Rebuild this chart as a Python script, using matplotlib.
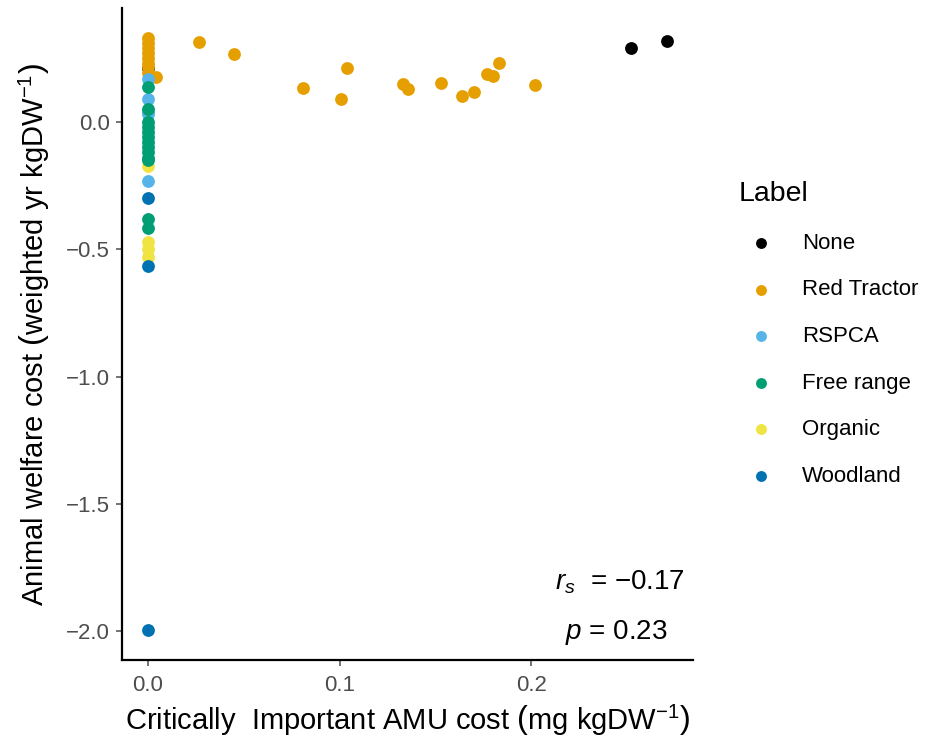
import matplotlib
matplotlib.use('Agg')
import matplotlib.pyplot as plt
import numpy as np

plt.rcParams['font.family'] = ['Liberation Sans', 'DejaVu Sans']
plt.rcParams['mathtext.fontset'] = 'custom'
plt.rcParams['mathtext.rm'] = 'Liberation Sans'
plt.rcParams['mathtext.it'] = 'Liberation Sans:italic'
plt.rcParams['mathtext.bf'] = 'Liberation Sans:bold'

# Data, by label
none_x = [0.0, 0.252, 0.271]
none_y = [0.21, 0.289, 0.316]

rt_x = [0.0, 0.0, 0.0, 0.0, 0.0, 0.0, 0.0, 0.0, 0.004, 0.0265, 0.045, 0.081, 0.101,
        0.104, 0.133, 0.136, 0.153, 0.164, 0.170, 0.177, 0.180, 0.183, 0.202]
rt_y = [0.33, 0.31, 0.29, 0.27, 0.25, 0.23, 0.215, 0.19, 0.175, 0.3125, 0.266, 0.133, 0.09,
        0.211, 0.148, 0.129, 0.152, 0.102, 0.117, 0.187, 0.18, 0.23, 0.145]

rspca_x = [0.0, 0.0, 0.0, 0.0, 0.0]
rspca_y = [0.17, 0.09, 0.04, 0.03, -0.23]

fr_x = [0.0] * 13
fr_y = [0.137, 0.05, 0.0, -0.02, -0.04, -0.06, -0.08, -0.10, -0.12, -0.14, -0.15, -0.38, -0.415]

org_x = [0.0, 0.0, 0.0, 0.0]
org_y = [-0.175, -0.47, -0.50, -0.53]

wood_x = [0.0, 0.0, 0.0]
wood_y = [-0.297, -0.565, -1.996]

labels = ['None', 'Red Tractor', 'RSPCA', 'Free range', 'Organic', 'Woodland']
colors = ['#000000', '#E69F00', '#56B4E9', '#009E73', '#F0E442', '#0072B2']

fig = plt.figure(figsize=(9.28, 7.45), dpi=100)
ax = fig.add_axes([0.1315, 0.114, 0.6153, 0.875])

series = {
    'None': (none_x, none_y),
    'Red Tractor': (rt_x, rt_y),
    'Organic': (org_x, org_y),
    'RSPCA': (rspca_x, rspca_y),
    'Free range': (fr_x, fr_y),
    'Woodland': (wood_x, wood_y),
}
handles = {}
for lab, (xs, ys) in series.items():
    c = colors[labels.index(lab)]
    handles[lab] = ax.scatter(xs, ys, s=85, color=c, linewidths=0, label=lab, zorder=3)

allx = none_x + rt_x + rspca_x + fr_x + org_x + wood_x
ally = none_y + rt_y + rspca_y + fr_y + org_y + wood_y
xr = max(allx) - min(allx)
yr = max(ally) - min(ally)
ax.set_xlim(min(allx) - 0.05 * xr, max(allx) + 0.05 * xr)
ax.set_ylim(min(ally) - 0.05 * yr, max(ally) + 0.05 * yr)

ax.set_xticks([0.0, 0.1, 0.2])
ax.set_xticklabels(['0.0', '0.1', '0.2'])
ax.set_yticks([0.0, -0.5, -1.0, -1.5, -2.0])
ax.set_yticklabels(['0.0', '\u22120.5', '\u22121.0', '\u22121.5', '\u22122.0'])
ax.tick_params(colors='#4D4D4D', labelsize=16, length=4, width=1.1)
ax.tick_params(axis='x', pad=7)
ax.tick_params(axis='y', pad=5)

for s in ['top', 'right']:
    ax.spines[s].set_visible(False)
for s in ['left', 'bottom']:
    ax.spines[s].set_linewidth(1.6)
    ax.spines[s].set_color('black')

ax.set_xlabel(r'Critically  Important AMU cost $\left(\mathrm{mg\ kgDW^{-1}}\right)$',
              fontsize=21, labelpad=5)
ax.set_ylabel(r'Animal welfare cost $\left(\mathrm{weighted\ yr\ kgDW^{-1}}\right)$',
              fontsize=21, labelpad=10)

ax.text(0.872, 0.12, r'$r_s$  = $-$0.17', transform=ax.transAxes, ha='center',
        va='center', fontsize=20)
ax.text(0.865, 0.043, r'$p$ = 0.23', transform=ax.transAxes, ha='center',
        va='center', fontsize=20)

leg = ax.legend([handles[l] for l in labels], labels, loc='upper left',
                bbox_to_anchor=(1.045, 0.765), frameon=False, title='Label',
                fontsize=16, title_fontsize=20.5, labelspacing=1.15,
                handletextpad=0.85, markerscale=0.85, alignment='left')

fig.savefig('out.png', dpi=100)
